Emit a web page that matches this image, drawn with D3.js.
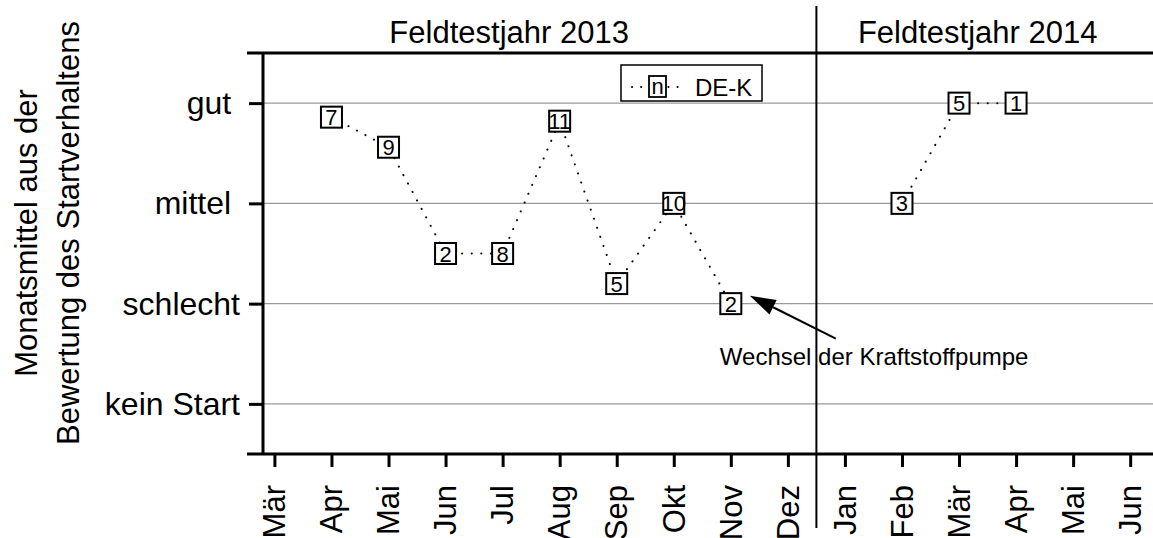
<!DOCTYPE html>
<html>
<head>
<meta charset="utf-8">
<script src="https://cdn.jsdelivr.net/npm/d3@7"></script>
<style>
  body { margin: 0; background: #fff; }
  text { font-family: "Liberation Sans", Arial, sans-serif; fill: #000; }
</style>
</head>
<body>
<svg id="chart" width="1153" height="538"></svg>
<script>
// months on the x axis (Mär 2013 .. Jun 2014)
const months = ["Mär", "Apr", "Mai", "Jun", "Jul", "Aug", "Sep", "Okt", "Nov", "Dez",
                "Jan", "Feb", "Mär", "Apr", "Mai", "Jun"];
// monthly mean rating, null = no data
const ratings = [null, 2.86, 2.56, 1.5, 1.5, 2.82, 1.2, 2.0, 1.0, null,
                 null, 2.0, 3.0, 3.0, null, null];
// number of ratings per month
const counts = [null, 7, 9, 2, 8, 11, 5, 10, 2, null,
                null, 3, 5, 1, null, null];
const yTickValues = [0, 1, 2, 3];
const yTickLabels = ["kein Start", "schlecht", "mittel ", "gut "];
const yearLabels = ["Feldtestjahr 2013", "Feldtestjahr 2014"];
const seriesName = "DE-K";
const annotationText = "Wechsel der Kraftstoffpumpe";

function drawChart(graphId) {
    const svg = d3.select("#" + graphId),
        left = 263,
        right = 1153,
        top = 53,
        bottom = 454,
        boxSize = 21;

    const xScale = d3.scaleLinear()
        .domain([-0.2, 15.4])
        .range([left, right]);

    const yScale = d3.scaleLinear()
        .domain([-0.5, 3.5])
        .range([bottom, top]);

    // grid lines
    svg.append("g")
        .selectAll("line")
        .data(yTickValues)
        .join("line")
        .attr("x1", left)
        .attr("x2", right)
        .attr("y1", d => yScale(d))
        .attr("y2", d => yScale(d))
        .attr("stroke", "#9a9a9a")
        .attr("stroke-width", 1.2);

    // y axis
    let yAxis = svg.append("g")
        .attr("transform", "translate(" + left + ",0)")
        .call(d3.axisLeft(yScale)
            .tickValues(yTickValues)
            .tickFormat((d, i) => yTickLabels[i])
            .tickSize(14)
            .tickSizeOuter(0)
            .tickPadding(9));
    yAxis.select(".domain").remove();
    yAxis.selectAll(".tick line").attr("stroke", "#000").attr("stroke-width", 3);
    yAxis.selectAll(".tick text")
        .style("white-space", "pre")
        .attr("font-size", 32)
        .attr("font-family", null)
        .attr("dy", "0.33em");

    // x axis
    let xAxis = svg.append("g")
        .attr("transform", "translate(0," + bottom + ")")
        .call(d3.axisBottom(xScale)
            .tickValues(d3.range(months.length))
            .tickFormat(i => months[i])
            .tickSize(13)
            .tickSizeOuter(0));
    xAxis.select(".domain").remove();
    xAxis.selectAll(".tick line").attr("stroke", "#000").attr("stroke-width", 3);
    xAxis.selectAll(".tick text")
        .attr("font-size", 31)
        .attr("font-family", null)
        .attr("text-anchor", "end")
        .attr("transform", "rotate(-90)")
        .attr("x", -31)
        .attr("y", 0)
        .attr("dy", "0.33em");

    // frame lines
    svg.append("line")
        .attr("x1", left - 16).attr("x2", right)
        .attr("y1", top).attr("y2", top)
        .attr("stroke", "#000").attr("stroke-width", 3);
    svg.append("line")
        .attr("x1", left - 16).attr("x2", right)
        .attr("y1", bottom).attr("y2", bottom)
        .attr("stroke", "#000").attr("stroke-width", 3);
    svg.append("line")
        .attr("x1", left).attr("x2", left)
        .attr("y1", top).attr("y2", bottom)
        .attr("stroke", "#000").attr("stroke-width", 3);

    // year divider
    const divX = xScale(9.5);
    svg.append("line")
        .attr("x1", divX).attr("x2", divX)
        .attr("y1", 6).attr("y2", 528)
        .attr("stroke", "#000").attr("stroke-width", 2);

    // year labels
    svg.append("text")
        .attr("x", (xScale(0) + xScale(9)) / 2 - 22)
        .attr("y", 43)
        .attr("text-anchor", "middle")
        .attr("font-size", 31)
        .text(yearLabels[0]);
    svg.append("text")
        .attr("x", (divX + right) / 2 - 7)
        .attr("y", 43)
        .attr("text-anchor", "middle")
        .attr("font-size", 31)
        .text(yearLabels[1]);

    // y axis title
    let yTitle = svg.append("g").attr("font-size", 31);
    yTitle.append("text")
        .attr("transform", "translate(37,233) rotate(-90)")
        .attr("text-anchor", "middle")
        .text("Monatsmittel aus der");
    yTitle.append("text")
        .attr("transform", "translate(79,233) rotate(-90)")
        .attr("text-anchor", "middle")
        .text("Bewertung des Startverhaltens");

    // dotted series line
    let points = months.map((m, i) => ({ i, v: ratings[i], n: counts[i] }));
    let line = d3.line()
        .defined(d => d.v !== null)
        .x(d => xScale(d.i))
        .y(d => yScale(d.v));

    svg.append("path")
        .datum(points)
        .attr("d", line)
        .attr("fill", "none")
        .attr("stroke", "#000")
        .attr("stroke-width", 2)
        .attr("stroke-linecap", "round")
        .attr("stroke-dasharray", "0.1,9.5");

    // boxed markers
    let marks = svg.append("g")
        .selectAll("g")
        .data(points.filter(d => d.v !== null))
        .join("g")
        .attr("transform", d => "translate(" + xScale(d.i) + "," + yScale(d.v) + ")");
    marks.append("rect")
        .attr("x", -boxSize / 2)
        .attr("y", -boxSize / 2)
        .attr("width", boxSize)
        .attr("height", boxSize)
        .attr("fill", "#fff")
        .attr("stroke", "#000")
        .attr("stroke-width", 2);
    marks.append("text")
        .attr("text-anchor", "middle")
        .attr("y", 8)
        .attr("font-size", 22)
        .text(d => d.n);

    // legend
    let legend = svg.append("g").attr("transform", "translate(621,65)");
    legend.append("rect")
        .attr("width", 141)
        .attr("height", 36)
        .attr("fill", "#fff")
        .attr("stroke", "#000")
        .attr("stroke-width", 1.5);
    legend.append("line")
        .attr("x1", 11).attr("x2", 62)
        .attr("y1", 22).attr("y2", 22)
        .attr("stroke", "#000")
        .attr("stroke-width", 2)
        .attr("stroke-linecap", "round")
        .attr("stroke-dasharray", "0.1,9");
    legend.append("rect")
        .attr("x", 28).attr("y", 11)
        .attr("width", 17).attr("height", 21)
        .attr("fill", "#fff")
        .attr("stroke", "#000")
        .attr("stroke-width", 1.8);
    legend.append("text")
        .attr("x", 36.5).attr("y", 29)
        .attr("text-anchor", "middle")
        .attr("font-size", 22)
        .text("n");
    legend.append("text")
        .attr("x", 74).attr("y", 31)
        .attr("font-size", 24)
        .text(seriesName);

    // annotation arrow pointing at Nov 2013
    const nx = xScale(8), ny = yScale(ratings[8]);
    const tip = [nx + 19, ny - 8], tail = [nx + 105, ny + 35];
    const ang = Math.atan2(tail[1] - tip[1], tail[0] - tip[0]);
    const headLen = 26, headW = 8;
    const base = [tip[0] + headLen * Math.cos(ang), tip[1] + headLen * Math.sin(ang)];
    svg.append("line")
        .attr("x1", base[0]).attr("y1", base[1])
        .attr("x2", tail[0]).attr("y2", tail[1])
        .attr("stroke", "#000").attr("stroke-width", 2);
    svg.append("path")
        .attr("d", "M" + tip[0] + "," + tip[1] +
            "L" + (base[0] - headW * Math.sin(ang)) + "," + (base[1] + headW * Math.cos(ang)) +
            "L" + (base[0] + headW * Math.sin(ang)) + "," + (base[1] - headW * Math.cos(ang)) + "Z")
        .attr("fill", "#000");
    svg.append("text")
        .attr("x", nx - 11)
        .attr("y", ny + 61)
        .attr("font-size", 24)
        .text(annotationText);
}

drawChart("chart");
</script>
</body>
</html>
